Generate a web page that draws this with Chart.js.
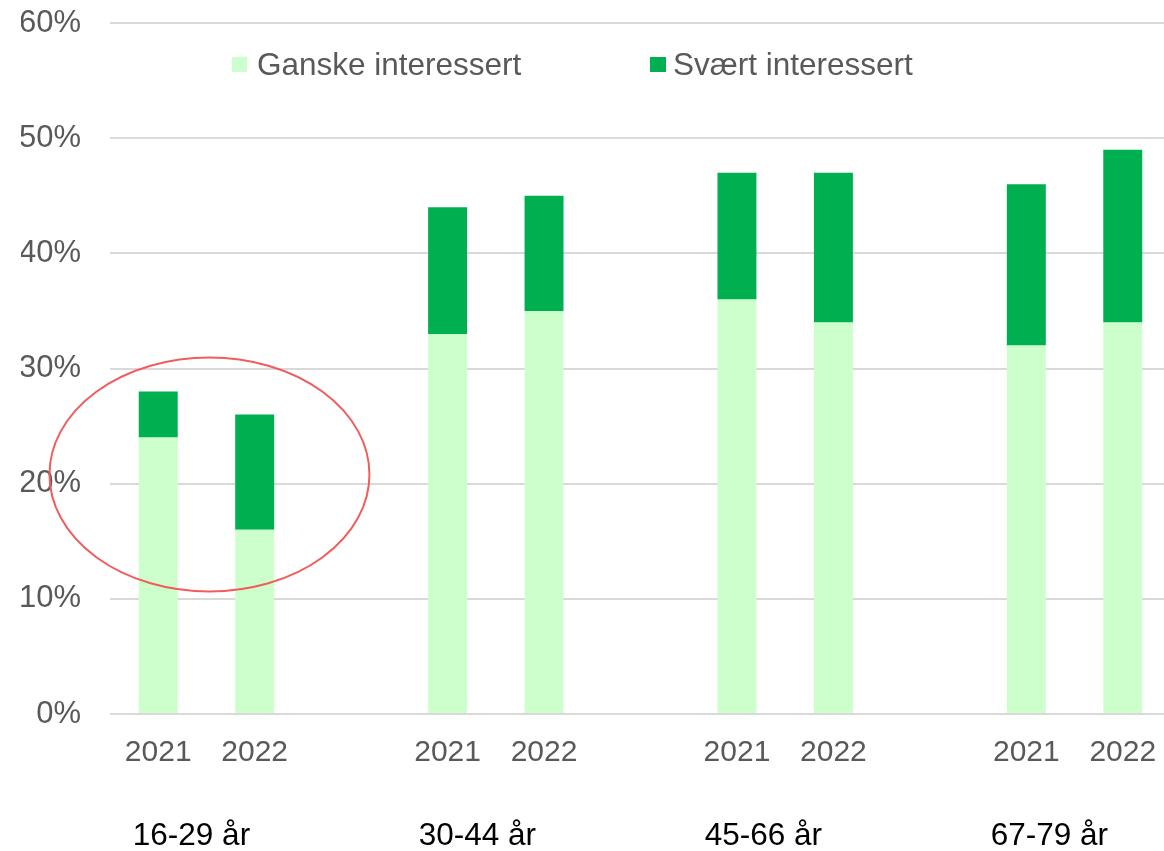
<!DOCTYPE html>
<html>
<head>
<meta charset="utf-8">
<script src="https://cdn.jsdelivr.net/npm/chart.js@4/dist/chart.umd.min.js"></script>
<style>
  body { margin: 0; background: #fff; }
  #wrap { position: relative; width: 1164px; height: 851px; overflow: hidden; }
  .leg { position: absolute; top: 45px; height: 38px; line-height: 38px;
         font-family: "Liberation Sans", Arial, sans-serif; font-size: 31.5px; color: #595959; white-space: nowrap; }
  .leg span { position: absolute; top: 12px; width: 15px; height: 15px; }
  .leg b { font-weight: normal; }
</style>
</head>
<body>
<div id="wrap">
  <canvas id="interest_bar" width="1172" height="851"></canvas>
  <div class="leg" style="left:232px;"><span style="left:0;background:#ccffcc;"></span><b style="margin-left:25px;">Ganske interessert</b></div>
  <div class="leg" style="left:650px;"><span style="left:0;width:16px;background:#00b050;"></span><b style="margin-left:23px;">Svært interessert</b></div>
</div>
<script>
const ageGroups = ['16-29 år', '30-44 år', '45-66 år', '67-79 år'];
const years = ['2021', '2022'];
const ganske = [24, 16, 33, 35, 36, 34, 32, 34];
const svaert = [4, 10, 11, 10, 11, 13, 14, 15];
const yTicks = [0, 10, 20, 30, 40, 50, 60];

const FONT = '"Liberation Sans", Arial, sans-serif';

// one empty slot between every age group
const labels = [];
const ganskeSlots = [];
const svaertSlots = [];
const groupSlots = [];
ageGroups.forEach(function(g, gi){
  if(gi > 0){
    labels.push('');
    ganskeSlots.push(null);
    svaertSlots.push(null);
  }
  const first = labels.length;
  years.forEach(function(y, yi){
    labels.push(y);
    ganskeSlots.push(ganske[gi * years.length + yi]);
    svaertSlots.push(svaert[gi * years.length + yi]);
  });
  groupSlots.push([first, labels.length - 1]);
});

const extras = {
  id: 'extras',
  afterDraw(chart){
    const ctx = chart.ctx;
    const x = chart.scales.x;
    const y = chart.scales.y;
    ctx.save();
    // age group labels under the years (sit a little left of the pair centre)
    ctx.font = '31.5px ' + FONT;
    ctx.fillStyle = '#000';
    ctx.textAlign = 'center';
    ctx.textBaseline = 'middle';
    groupSlots.forEach(function(s, i){
      const mid = (x.getPixelForValue(s[0]) + x.getPixelForValue(s[1])) / 2;
      ctx.fillText(ageGroups[i], mid - 15 - 3.4 * i, 836);
    });
    // red ring round the youngest group
    const s = groupSlots[0];
    const cx = (x.getPixelForValue(s[0]) + x.getPixelForValue(s[1])) / 2 + 3;
    const cy = y.getPixelForValue(20.8);
    ctx.beginPath();
    ctx.ellipse(cx, cy, 160, 117, 0, 0, Math.PI * 2);
    ctx.strokeStyle = '#f25c5c';
    ctx.lineWidth = 2;
    ctx.stroke();
    ctx.restore();
  }
};

const config = {
  type: 'bar',
  data: {
    labels: labels,
    datasets: [
      {
        label: 'Ganske interessert',
        data: ganskeSlots,
        backgroundColor: '#ccffcc',
        borderWidth: 0,
      },
      {
        label: 'Svært interessert',
        data: svaertSlots,
        backgroundColor: '#00b050',
        borderWidth: 0,
      }
    ]
  },
  options: {
    responsive: false,
    animation: false,
    layout: {
      padding: { left: 21, right: 1, top: 0, bottom: 81 }
    },
    datasets: {
      bar: { categoryPercentage: 1, barPercentage: 0.404 }
    },
    scales: {
      x: {
        stacked: true,
        grid: { display: false, drawTicks: false },
        border: { display: false },
        ticks: {
          color: '#595959',
          font: { family: FONT, size: 30 },
          padding: 21,
          maxRotation: 0,
          autoSkip: false
        },
        afterFit(axis){
          axis.height = 56;
          axis.paddingLeft = 0;
          axis.paddingRight = 0;
        }
      },
      y: {
        stacked: true,
        min: 0,
        max: 60,
        afterBuildTicks(axis){
          axis.ticks = yTicks.map(function(v){ return { value: v }; });
        },
        grid: { color: '#d9d9d9', lineWidth: 2, drawTicks: false },
        border: { display: false },
        ticks: {
          color: '#595959',
          font: { family: FONT, size: 31 },
          padding: 29,
          callback: function(v){ return v + '%'; }
        },
        afterFit(axis){
          axis.width = 89;
          axis.paddingTop = 23;
          axis.paddingBottom = 0;
        }
      }
    },
    plugins: {
      legend: { display: false },
      tooltip: { enabled: false }
    }
  },
  plugins: [extras]
};

new Chart(document.getElementById('interest_bar'), config);
</script>
</body>
</html>
